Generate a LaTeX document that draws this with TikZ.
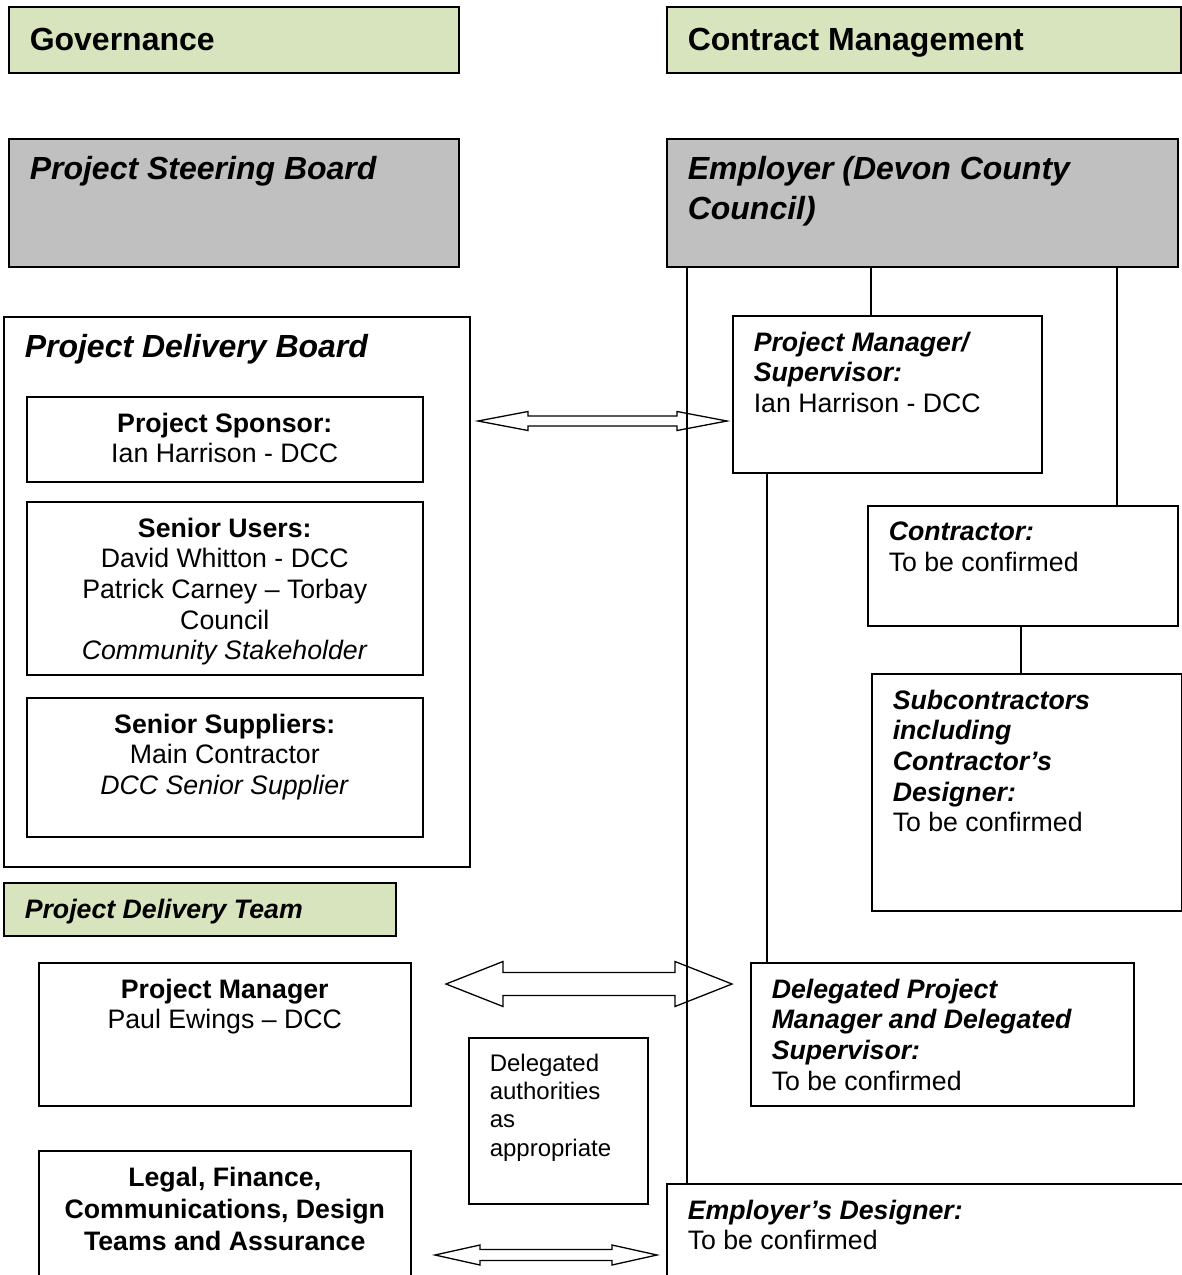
\documentclass[tikz,border=0pt]{standalone}
\usepackage{fontspec}
\setmainfont{Liberation Sans}
\usetikzlibrary{calc}
\definecolor{bandgreen}{HTML}{D7E4BD}
\definecolor{boardgray}{HTML}{C0C0C0}
\newcommand{\cellbox}[3]{\parbox[c][#2pt][t]{#1pt}{#3}}
\newcommand{\role}[1]{\textbf{\textit{#1}}}
\newcommand{\dblarrow}[5]{%
  \draw[twoway] (#1) -- ++(#5,-#4) -- ++(0,#4-#3) -- ($(#2)+(-#5,-#3)$)
  -- ++(0,#3-#4) -- (#2) -- ($(#2)+(-#5,#4)$) -- ++(0,#3-#4)
  -- ($(#1)+(#5,#3)$) -- ++(0,#4-#3) -- cycle;}

\begin{document}
\begin{tikzpicture}[x=1pt,y=-1pt,
    box/.style={draw,line width=1.5pt,anchor=north west,inner xsep=21pt,
      inner ysep=16pt,font=\fontsize{26.7}{30.7}\selectfont},
    head/.style={box,inner ysep=18pt,font=\bfseries\itshape\fontsize{32}{40}\selectfont},
    band/.style={box,fill=bandgreen,inner ysep=21pt,font=\bfseries\fontsize{32}{38}\selectfont},
    link/.style={line width=1.5pt},
    twoway/.style={draw,fill=white,line width=1.3pt,line join=miter}]
  \useasboundingbox (0,0) rectangle (1182,1275);
  \clip (0,0) rectangle (1182,1275);

  \node[band] (gov) at (8,6) {\cellbox{408}{24}{Governance}};
  \node[band] (cm) at (666,6) {\cellbox{472}{24}{Contract Management}};
  \node[head,fill=boardgray] (psb) at (8,138) {\cellbox{408}{92}{Project Steering Board}};
  \node[head,fill=boardgray] (emp) at (666,138)
    {\cellbox{469}{92}{Employer (Devon County\\Council)}};

  \node[head] (pdb) at (3,316) {\cellbox{424}{514}{Project Delivery Board}};
  \node[box] (spons) at (26,396) {\cellbox{354}{53}{\centering
    \textbf{Project Sponsor:}\\Ian Harrison - DCC}};
  \node[box] (users) at (26,501) {\cellbox{354}{141}{\centering
    \textbf{Senior Users:}\\David Whitton - DCC\\Patrick Carney – Torbay\\Council\\
    \textit{Community Stakeholder}}};
  \node[box] (supp) at (26,697) {\cellbox{354}{107}{\centering
    \textbf{Senior Suppliers:}\\Main Contractor\\\textit{DCC Senior Supplier}}};

  \node[box] (pmsup) at (732,315) {\cellbox{267}{125}{\raggedright
    \role{Project Manager/}\\\role{Supervisor:}\\Ian Harrison - DCC}};
  \node[box] (contr) at (867,505) {\cellbox{268}{88}{\raggedright
    \role{Contractor:}\\To be confirmed}};
  \node[box] (subc) at (871,673) {\cellbox{268}{205}{\raggedright
    \role{Subcontractors}\\\role{including}\\\role{Contractor’s}\\\role{Designer:}\\
    To be confirmed}};

  \node[box,fill=bandgreen,font=\bfseries\itshape\fontsize{26.7}{30.7}\selectfont] (pdt)
    at (3,882) {\cellbox{350}{21}{Project Delivery Team}};
  \node[box] (pm) at (38,962) {\cellbox{330}{111}{\centering
    \textbf{Project Manager}\\Paul Ewings – DCC}};
  \node[box] (dpm) at (750,962) {\cellbox{341}{111}{\raggedright
    \role{Delegated Project}\\\role{Manager and Delegated}\\\role{Supervisor:}\\
    To be confirmed}};
  \node[box,font=\fontsize{24}{28.3}\selectfont] (dauth) at (468,1037)
    {\cellbox{137}{134}{\raggedright Delegated\\authorities\\as\\appropriate}};
  \node[box,font=\bfseries\fontsize{26.7}{32}\selectfont] (legal) at (38,1150)
    {\cellbox{330}{140}{\centering Legal, Finance,\\Communications, Design\\
    Teams and Assurance}};
  \node[box] (edes) at (666,1183) {\cellbox{475}{140}{\raggedright
    \role{Employer’s Designer:}\\To be confirmed}};

  \coordinate (boardL) at (478,421);
  \coordinate (boardR) at (727,421);
  \coordinate (teamL) at (446,984);
  \coordinate (teamR) at (732,984);
  \coordinate (legalL) at (435,1255);
  \coordinate (legalR) at (657,1255);
  \dblarrow{boardL}{boardR}{5}{9.5}{50}
  \dblarrow{teamL}{teamR}{11.5}{22.5}{57}
  \dblarrow{legalL}{legalR}{5.5}{10}{45}

  \draw[link] (emp.south -| 687,0) -- (edes.north -| 687,0);
  \draw[link] (emp.south -| 871,0) -- (pmsup.north -| 871,0);
  \draw[link] (emp.south -| 1117,0) -- (contr.north -| 1117,0);
  \draw[link] (contr.south -| 1021,0) -- (subc.north -| 1021,0);
  \draw[link] (pmsup.south -| 767,0) -- (dpm.north -| 767,0);
\end{tikzpicture}
\end{document}
